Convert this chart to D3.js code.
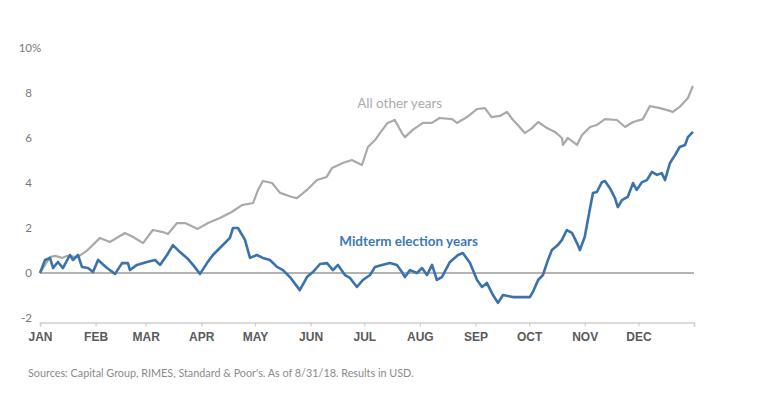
<!DOCTYPE html>
<html>
<head>
<meta charset="utf-8">
<script src="https://cdn.jsdelivr.net/npm/d3@7"></script>
<style>
  body { margin: 0; background: #fff; }
  svg { display: block; font-family: Lato, "Open Sans", sans-serif; }
</style>
</head>
<body>
<svg id="chart" width="775" height="410"></svg>
<script>
// day of year (0 = Jan 1) and cumulative return in %
var otherDays = [0, 5.6, 8.4, 12.3, 15, 21, 26, 33.5, 39, 47.4, 52, 57.5, 63, 68.6, 71.4, 76.5, 81, 88, 93.8,
  100.4, 107, 112.7, 118.9, 121.7, 124.4, 129.5, 134, 140.6, 143.4, 149, 154.6, 160, 163, 169, 174, 179.7,
  183, 187, 189.7, 194, 198, 202, 203.7, 208, 213.7, 218.7, 223, 230, 232.7, 238.3, 244, 248.3, 252, 256.7,
  260.6, 264, 266.7, 270.6, 274.6, 278, 283, 287.4, 291.3, 291.9, 294.6, 299.7, 302.5, 307, 310.8, 315.3,
  322, 326.5, 331, 336.5, 340.4, 346, 350, 353.2, 357, 361.6, 364.4];
var otherValues = [0, 0.71, 0.76, 0.67, 0.76, 0.71, 0.98, 1.56, 1.38, 1.78, 1.6, 1.33, 1.91, 1.82, 1.73, 2.22, 2.22, 1.96, 2.22,
  2.44, 2.71, 3.02, 3.11, 3.69, 4.09, 4.0, 3.56, 3.38, 3.33, 3.69, 4.13, 4.27, 4.67, 4.89, 5.02, 4.8,
  5.6, 5.91, 6.22, 6.67, 6.8, 6.22, 6.04, 6.36, 6.67, 6.67, 6.89, 6.84, 6.67, 6.93, 7.29, 7.33, 6.93, 6.98,
  7.16, 6.8, 6.58, 6.22, 6.44, 6.71, 6.44, 6.27, 6.0, 5.69, 6.0, 5.69, 6.13, 6.49, 6.58, 6.84,
  6.8, 6.49, 6.71, 6.84, 7.42, 7.33, 7.24, 7.16, 7.38, 7.78, 8.31];

var midDays = [0, 2.8, 5.6, 7.3, 10, 12.8, 16.7, 18.4, 21.2, 23.4, 26.8, 29.6, 32.4, 37.4, 41.9, 45.8, 49.1, 50.2,
  54.1, 59.7, 64.2, 67, 70.9, 74.2, 78.1, 82, 85.4, 89.3, 93.2, 96.5, 100.4, 106, 107.7, 110.5, 114.4, 117.2,
  121, 124.4, 128.3, 132.3, 135.6, 139.5, 145, 149, 152.3, 156.3, 160.2, 163.5, 166.3, 170.2, 173, 176.9,
  180.2, 184.2, 187, 190.8, 195.3, 199.2, 202, 203.7, 206.5, 210.4, 213.2, 216, 218.8, 221.5, 224.3, 228.8,
  233.3, 236, 240, 243.9, 246.7, 249.4, 252.8, 255.6, 258.4, 264, 269, 273.4, 275.1, 278, 280.7, 283.5,
  285.7, 289, 291.3, 294, 296.9, 299.7, 301.3, 304, 307, 308.6, 310.8, 313.6, 315.3, 318, 320.9, 322.5,
  324.8, 328, 331, 333, 336, 338.7, 341.5, 344.3, 347, 348.8, 351.6, 354.4, 357, 360, 361.6, 364.4];
var midValues = [0, 0.58, 0.67, 0.22, 0.49, 0.22, 0.8, 0.58, 0.8, 0.27, 0.22, 0.04, 0.58, 0.22, -0.04, 0.44, 0.44, 0.13,
  0.36, 0.49, 0.58, 0.36, 0.8, 1.24, 0.93, 0.67, 0.36, -0.04, 0.44, 0.8, 1.11, 1.56, 2.0, 2.0, 1.47, 0.67,
  0.8, 0.67, 0.58, 0.27, 0.13, -0.18, -0.76, -0.18, 0.04, 0.4, 0.44, 0.13, 0.36, -0.09, -0.22, -0.62,
  -0.31, -0.09, 0.27, 0.36, 0.44, 0.36, 0.04, -0.18, 0.13, 0, 0.22, -0.09, 0.36, -0.31, -0.18, 0.49,
  0.8, 0.89, 0.44, -0.31, -0.62, -0.44, -0.98, -1.33, -0.98, -1.07, -1.07, -1.07, -0.84, -0.31, -0.09, 0.58,
  1.02, 1.24, 1.47, 1.91, 1.78, 1.33, 1.02, 1.6, 2.89, 3.56, 3.6, 4.04, 4.09, 3.78, 3.33, 2.93,
  3.24, 3.38, 4.0, 3.69, 4.04, 4.13, 4.49, 4.36, 4.44, 4.13, 4.89, 5.24, 5.6, 5.69, 6.04, 6.27];

var yTicks = [-2, 0, 2, 4, 6, 8, 10];
var seriesLabels = ["All other years", "Midterm election years"];
var sourceNote = "Sources: Capital Group, RIMES, Standard & Poor's. As of 8/31/18. Results in USD.";

var svg = d3.select("#chart"),
  margin = { "top": 48, "right": 81, "bottom": 87.5, "left": 40 },
  width = 775 - margin.left - margin.right,
  height = 410 - margin.top - margin.bottom,
  start = new Date(2018, 0, 1),
  end = new Date(2019, 0, 1);

function toDate(day) {
  return new Date(start.getTime() + day * 864e5);
}

var x = d3.scaleTime().domain([start, end]).range([0, width]);
var y = d3.scaleLinear().domain([-2.2, 10]).range([height, 0]);

var g = svg.append("g")
  .attr("transform", "translate(" + margin.left + "," + margin.top + ")");

// x axis
var xAxis = g.append("g")
  .attr("transform", "translate(0," + height + ")")
  .call(d3.axisBottom(x)
    .ticks(d3.timeMonth.every(1))
    .tickSize(4)
    .tickPadding(6)
    .tickFormat(function(d) {
      return d.getFullYear() > 2018 ? "" : d3.timeFormat("%b")(d).toUpperCase();
    }));
xAxis.select(".domain").attr("stroke", "#cfcfcf").attr("stroke-width", 1.5);
xAxis.selectAll(".tick line").attr("stroke", "#cfcfcf").attr("stroke-width", 1.2);
xAxis.selectAll(".tick text")
  .attr("fill", "#5a5a5a")
  .style("font-size", "12px")
  .style("font-weight", "700");

// y labels (no axis line)
g.selectAll(".yLabel")
  .data(yTicks)
  .enter().append("text")
  .attr("class", "yLabel")
  .attr("x", -8)
  .attr("y", function(d) { return y(d); })
  .attr("dy", "0.35em")
  .attr("text-anchor", "end")
  .attr("fill", "#777")
  .style("font-size", "11.5px")
  .text(function(d) { return d; });
g.append("text")
  .attr("x", -8)
  .attr("y", y(10))
  .attr("dy", "0.35em")
  .attr("fill", "#777")
  .style("font-size", "11.5px")
  .text("%");

// zero line
g.append("line")
  .attr("x1", 0)
  .attr("x2", width)
  .attr("y1", y(0))
  .attr("y2", y(0))
  .attr("stroke", "#9a9a9a")
  .attr("stroke-width", 1.5);

var line = d3.line()
  .x(function(d) { return x(toDate(d[0])); })
  .y(function(d) { return y(d[1]); });

g.append("path")
  .datum(d3.zip(otherDays, otherValues))
  .attr("fill", "none")
  .attr("stroke", "#a9a9a9")
  .attr("stroke-width", 2.2)
  .attr("stroke-linejoin", "round")
  .attr("d", line);

g.append("path")
  .datum(d3.zip(midDays, midValues))
  .attr("fill", "none")
  .attr("stroke", "#3a72ab")
  .attr("stroke-width", 2.6)
  .attr("stroke-linejoin", "round")
  .attr("d", line);

// series labels
g.append("text")
  .attr("x", x(toDate(177)))
  .attr("y", y(7.35))
  .attr("fill", "#ababab")
  .style("font-size", "13.5px")
  .text(seriesLabels[0]);

g.append("text")
  .attr("x", x(toDate(167)))
  .attr("y", y(1.2))
  .attr("fill", "#3d79b3")
  .style("font-size", "13.5px")
  .style("font-weight", "700")
  .text(seriesLabels[1]);

// source
svg.append("text")
  .attr("x", 28)
  .attr("y", 377)
  .attr("fill", "#8a8a8a")
  .style("font-size", "10.8px")
  .text(sourceNote);
</script>
</body>
</html>
